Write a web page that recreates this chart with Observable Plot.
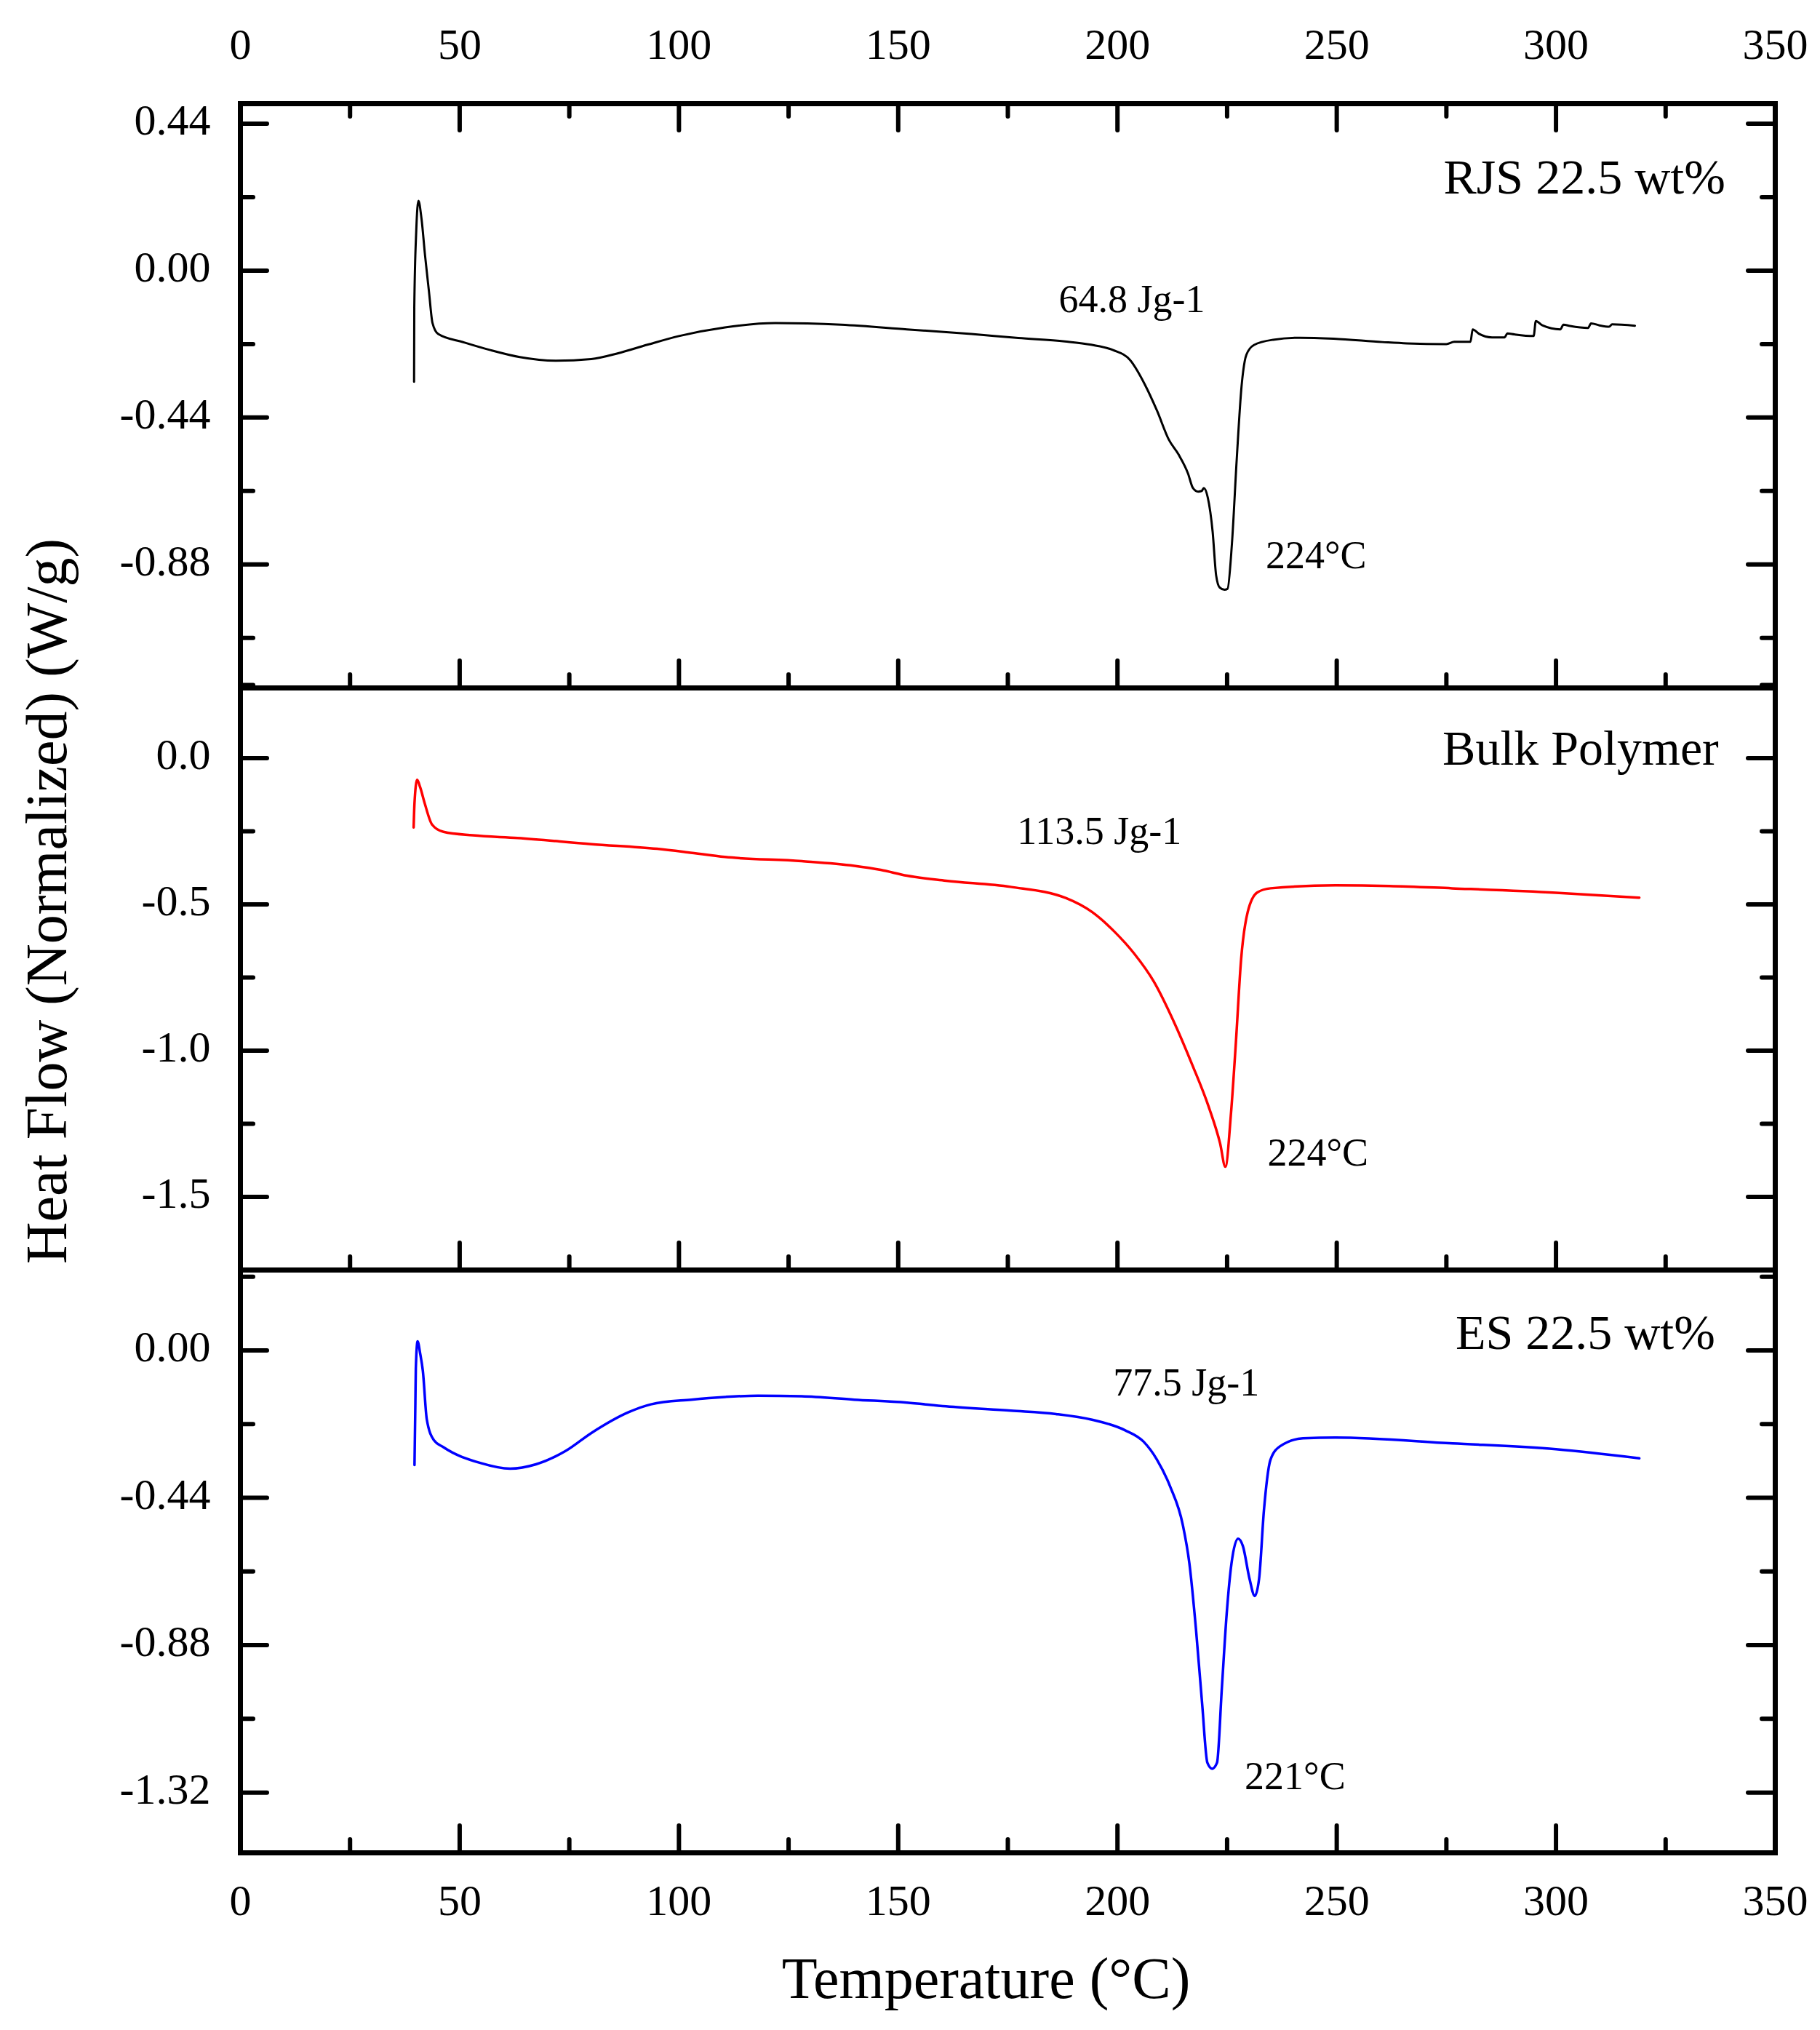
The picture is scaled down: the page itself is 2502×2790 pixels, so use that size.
<!DOCTYPE html>
<html>
<head>
<meta charset="utf-8">
<script src="https://cdn.jsdelivr.net/npm/d3@7"></script>
<script src="https://cdn.jsdelivr.net/npm/@observablehq/plot@0.6"></script>
<style>
  html, body { margin: 0; padding: 0; background: #fff; overflow: hidden; }
  #chart { position: relative; width: 2502px; height: 2790px; background: #fff; }
</style>
</head>
<body>
<div id="chart"></div>
<script>
// ---- Data ----
const xMajor = [0, 50, 100, 150, 200, 250, 300, 350];
const xMinor = [25, 75, 125, 175, 225, 275, 325];

const rjsMajor = [0.44, 0, -0.44, -0.88];
const rjsMinor = [0.22, -0.22, -0.66, -1.1];
const bulkMajor = [0, -0.5, -1.0, -1.5];
const bulkMinor = [0.25, -0.25, -0.75, -1.25];
const esMajor = [0, -0.44, -0.88, -1.32];
const esMinor = [0.22, -0.22, -0.66, -1.1];

const titles = ["RJS 22.5 wt%", "Bulk Polymer", "ES 22.5 wt%"];
const enthalpies = ["64.8 Jg-1", "113.5 Jg-1", "77.5 Jg-1"];
const peaks = ["224°C", "224°C", "221°C"];
const xLabel = "Temperature (°C)";
const yLabel = "Heat Flow (Normalized) (W/g)";

// [temperature °C, heat flow W/g]
const rjs = [
  [39.6,-0.333],[39.65,-0.11],[40.1,0.12],[40.6,0.209],[41.3,0.155],[42.1,0.046],[43.0,-0.063],
  [43.8,-0.157],[45.1,-0.19],[51,-0.215],[57,-0.238],[63.7,-0.259],[72,-0.27],[80,-0.265],
  [86,-0.248],[92.8,-0.222],[100,-0.196],[110.5,-0.17],[122,-0.157],[137,-0.162],[152,-0.176],
  [166.7,-0.19],[177.4,-0.202],[188,-0.212],[194,-0.222],[199,-0.238],[202.9,-0.268],[206.2,-0.34],
  [209,-0.419],[211.7,-0.506],[213.9,-0.55],[216.1,-0.608],[217.2,-0.651],[218.4,-0.662],
  [219.2,-0.66],[219.7,-0.651],[220.6,-0.68],[221.7,-0.782],[222.5,-0.913],[223.3,-0.949],
  [224.4,-0.956],[225.1,-0.953],[226.1,-0.818],[227.2,-0.564],[228.3,-0.346],[229.4,-0.252],
  [231.1,-0.223],[235.5,-0.207],[241.6,-0.201],[249.3,-0.204],[260.4,-0.214],[266,-0.218],
  [275,-0.22],[276.8,-0.213],[280.5,-0.213],[281,-0.176],[282.4,-0.189],[285.4,-0.2],[288.3,-0.2],
  [288.9,-0.188],[290.5,-0.191],[294.9,-0.196],[295.4,-0.151],[296.9,-0.164],[301,-0.176],
  [301.7,-0.162],[303.2,-0.166],[307.3,-0.172],[308,-0.158],[309.9,-0.164],[312.1,-0.168],
  [312.8,-0.161],[318,-0.165]
];
const bulk = [
  [39.5,-0.237],[39.7,-0.153],[40.3,-0.074],[41.0,-0.1],[42.0,-0.153],[43.7,-0.227],[46.3,-0.252],
  [53,-0.264],[63.2,-0.273],[80.1,-0.294],[95,-0.31],[102,-0.322],[110.5,-0.338],[128,-0.352],
  [140,-0.368],[146,-0.382],[152,-0.402],[160.9,-0.419],[175.6,-0.44],[188.2,-0.478],[194.2,-0.526],
  [199.3,-0.593],[203.8,-0.668],[208.3,-0.764],[212.7,-0.896],[217.1,-1.05],[220.8,-1.192],
  [223.4,-1.317],[224.6,-1.397],[225.9,-1.212],[227.0,-0.973],[228.2,-0.687],[229.7,-0.526],
  [231.9,-0.459],[234.9,-0.445],[249.7,-0.435],[262,-0.437],[276.3,-0.445],[300,-0.46],[319,-0.477]
];
const es = [
  [39.7,-0.342],[39.9,-0.155],[40.0,-0.054],[40.4,0.027],[41.0,-0.01],[41.6,-0.061],[42.5,-0.206],
  [44.1,-0.2675],[46.3,-0.289],[54.7,-0.336],[61.5,-0.353],[67.4,-0.34],[74.2,-0.3],[80.1,-0.246],
  [88.6,-0.184],[93.6,-0.161],[102.8,-0.147],[110.5,-0.139],[118,-0.135],[128,-0.137],[140,-0.147],
  [152,-0.156],[160.9,-0.167],[175.7,-0.18],[186,-0.19],[194.2,-0.207],[201.6,-0.2375],[206.0,-0.273],
  [209.0,-0.326],[212.0,-0.406],[214.9,-0.521],[216.4,-0.636],[217.9,-0.832],[219.3,-1.054],
  [220.5,-1.231],[221.6,-1.249],[222.7,-1.231],[223.8,-1.009],[224.9,-0.787],[226.0,-0.636],
  [227.5,-0.562],[228.6,-0.584],[230.1,-0.681],[231.3,-0.733],[232.3,-0.681],[233.4,-0.477],
  [234.9,-0.326],[237.1,-0.286],[242.3,-0.2625],[249.7,-0.26],[276.4,-0.2775],[300,-0.295],[319,-0.322]
];

// ---- Layout ----
const W = 2502, H = 2790, ML = 330, MR = 62;
const FONT = "'Liberation Serif', 'Times New Roman', serif";
const innerW = W - ML - MR;

function panel(cfg) {
  const innerH = cfg.bottom - cfg.top;
  const tk = {stroke: "black", strokeWidth: 6, strokeLinecap: "round"};
  const marks = [
    Plot.ruleY(cfg.yMajor, {y: d => d, insetRight: innerW - 37, ...tk}),
    Plot.ruleY(cfg.yMinor, {y: d => d, insetRight: innerW - 18, ...tk}),
    Plot.ruleY(cfg.yMajor, {y: d => d, insetLeft: innerW - 37, ...tk}),
    Plot.ruleY(cfg.yMinor, {y: d => d, insetLeft: innerW - 18, ...tk}),
    Plot.ruleX(xMajor, {x: d => d, insetTop: innerH - 37, ...tk}),
    Plot.ruleX(xMinor, {x: d => d, insetTop: innerH - 18, ...tk})
  ];
  if (cfg.topTicks) {
    marks.push(
      Plot.ruleX(xMajor, {x: d => d, insetBottom: innerH - 37, ...tk}),
      Plot.ruleX(xMinor, {x: d => d, insetBottom: innerH - 18, ...tk})
    );
  }
  marks.push(
    Plot.line(cfg.data, {x: d => d[0], y: d => d[1], stroke: cfg.color, strokeWidth: cfg.lw, curve: "monotone-x"}),
    Plot.frame({stroke: "black", strokeWidth: 7}),
    Plot.axisY({ticks: cfg.yMajor, tickSize: 0, tickPadding: 41, tickFormat: cfg.fmt, fontSize: 60, dy: -4, label: null}),
    Plot.text([cfg.title], {x: cfg.titlePos[0], y: cfg.titlePos[1], text: d => d, textAnchor: "end", lineAnchor: "bottom", fontSize: 68, fill: "black"}),
    Plot.text([cfg.enthalpy], {x: cfg.enthPos[0], y: cfg.enthPos[1], text: d => d, textAnchor: "start", lineAnchor: "bottom", fontSize: 54, fill: "black"}),
    Plot.text([cfg.peak], {x: cfg.peakPos[0], y: cfg.peakPos[1], text: d => d, textAnchor: "start", lineAnchor: "bottom", fontSize: 54, fill: "black"})
  );
  if (cfg.extra) marks.push(...cfg.extra);
  return Plot.plot({
    width: W,
    height: H,
    marginLeft: ML,
    marginRight: MR,
    marginTop: cfg.top,
    marginBottom: H - cfg.bottom,
    x: {domain: [0, 350], axis: cfg.xAxis ? undefined : null},
    y: {domain: cfg.yDomain},
    style: {
      position: "absolute", top: "0px", left: "0px",
      background: "transparent", overflow: "visible", maxWidth: "none",
      fontFamily: FONT, fontSize: "60px", color: "black"
    },
    marks
  });
}

const fmt2 = d => d.toFixed(2);
const fmt1 = d => d.toFixed(1);
const fmtX = d => String(d);

const p1 = panel({
  top: 142, bottom: 945, yDomain: [-1.25, 0.5], yMajor: rjsMajor, yMinor: rjsMinor, fmt: fmt2,
  data: rjs, color: "black", lw: 3, topTicks: true, xAxis: true,
  title: titles[0], titlePos: [338.6, 0.231],
  enthalpy: enthalpies[0], enthPos: [186.6, -0.124],
  peak: peaks[0], peakPos: [233.8, -0.891],
  extra: [Plot.axisX({anchor: "top", ticks: xMajor, tickSize: 0, tickPadding: 62, tickFormat: fmtX, fontSize: 60, label: null})]
});
const p2 = panel({
  top: 945, bottom: 1745, yDomain: [-1.75, 0.24], yMajor: bulkMajor, yMinor: bulkMinor, fmt: fmt1,
  data: bulk, color: "#ff0000", lw: 3.5, topTicks: false, xAxis: false,
  title: titles[1], titlePos: [337.1, -0.022],
  enthalpy: enthalpies[1], enthPos: [177.1, -0.294],
  peak: peaks[1], peakPos: [234.2, -1.393],
  extra: [Plot.text([yLabel], {frameAnchor: "left", text: d => d, rotate: -90, dx: 90 - ML, dy: -107, textAnchor: "middle", lineAnchor: "bottom", fontSize: 80, fill: "black"})]
});
const p3 = panel({
  top: 1745, bottom: 2546, yDomain: [-1.5, 0.24], yMajor: esMajor, yMinor: esMinor, fmt: fmt2,
  data: es, color: "#0000ff", lw: 3.5, topTicks: false, xAxis: true,
  title: titles[2], titlePos: [336.3, 0.004],
  enthalpy: enthalpies[2], enthPos: [199, -0.135],
  peak: peaks[2], peakPos: [229, -1.311],
  extra: [
    Plot.axisX({anchor: "bottom", ticks: xMajor, tickSize: 0, tickPadding: 43, tickFormat: fmtX, fontSize: 60, label: null}),
    Plot.text([xLabel], {frameAnchor: "bottom", text: d => d, dx: -30, dy: 199, textAnchor: "middle", lineAnchor: "bottom", fontSize: 80, fill: "black"})
  ]
});

const chart = document.getElementById("chart");
chart.append(p1, p2, p3);
</script>
</body>
</html>
